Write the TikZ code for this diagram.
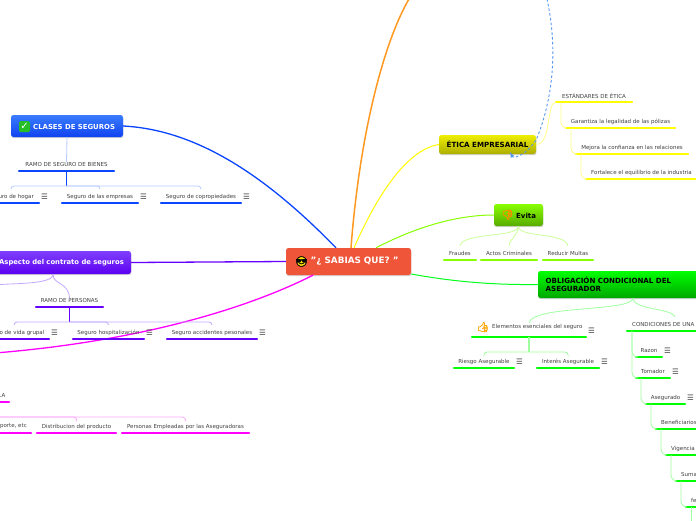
\documentclass[tikz,border=0pt]{standalone}
\usepackage{fontspec}
\setmainfont{DejaVu Sans}
\newfontfamily\emojifont[FakeBold=2.5]{Noto Emoji}
\usetikzlibrary{shadows,calc}
\definecolor{cBlue}{HTML}{0A45FF}
\definecolor{cBlueL}{HTML}{B4CBFF}
\definecolor{cPurple}{HTML}{6600FF}
\definecolor{cPurpleL}{HTML}{C4A8FF}
\definecolor{cMag}{HTML}{FF00FF}
\definecolor{cMagL}{HTML}{FFA8FF}
\definecolor{cYel}{HTML}{FFFF00}
\definecolor{cYelL}{HTML}{FFFF88}
\definecolor{cLime}{HTML}{88FF00}
\definecolor{cLimeL}{HTML}{CCFF99}
\definecolor{cGreen}{HTML}{00FF00}
\definecolor{cGreenL}{HTML}{A0FFA0}
\definecolor{cOrange}{HTML}{FF9922}
\definecolor{cDash}{HTML}{5599EE}
\definecolor{cRed}{HTML}{EE5539}
\definecolor{blueTop}{HTML}{3A7CFF}
\definecolor{blueBot}{HTML}{0F42F0}
\definecolor{purpTop}{HTML}{8040FF}
\definecolor{purpBot}{HTML}{5C00F0}
\definecolor{yelTop}{HTML}{EEEE00}
\definecolor{yelBot}{HTML}{AEAE00}
\definecolor{limeBot}{HTML}{58AA00}
\definecolor{greenBot}{HTML}{00A800}
\tikzset{
  topbox/.style={rounded corners=2.5pt,inner sep=0pt,
    drop shadow={shadow xshift=0.4pt,shadow yshift=-1.2pt,opacity=.35}},
  boxtext/.style={inner sep=0pt,anchor=west,font=\bfseries\fontsize{#1}{8.4}\selectfont},
  leaftext/.style={inner sep=0pt,text=black!75,font=\fontsize{5.5}{6.5}\selectfont},
  under/.style={line width=2.1pt,line cap=round},
  burger/.style={inner sep=0pt,text=black!75,font=\fontsize{7.5}{8}\selectfont},
  mainlink/.style={line width=1.3pt},
  lite/.style={line width=0.8pt},
  stem/.style={line width=1pt}
}
% name, x1, x2, y, colour, anchor, text x, text
\newcommand{\leafat}[8]{%
  \coordinate (#1-l) at (#2,#4);
  \coordinate (#1-r) at (#3,#4);
  \coordinate (#1-c) at ({(#2+#3)/2},#4);
  \coordinate (#1-t) at ({(#2+#3)/2},#4-14);
  \coordinate (#1-d) at ({(#2+#3)/2},#4+15);
  \node[leaftext,anchor=#6] (#1) at (#7,#4-6.5) {#8};
  \draw[under,#5] (#1-l) -- (#1-r);
}
\newcommand{\leafc}[6]{\leafat{#1}{#2}{#3}{#4}{#5}{center}{{(#2+#3)/2}}{#6}}
\newcommand{\leafw}[6]{\leafat{#1}{#2}{#3}{#4}{#5}{west}{#2+5}{#6}}
\newcommand{\menuicon}[1]{\node[burger,anchor=center] (#1-m) at ($(#1-r)+(5.5,-6.5)$) {☰};}
\newcommand{\kid}[3]{\draw[lite,#1,rounded corners=3pt] (#2-d) -| (#3-t);}
\newcommand{\tree}[3]{\draw[lite,#1,rounded corners=6pt] ([xshift=5pt]#2-l) |- (#3-l);}
\begin{document}
\begin{tikzpicture}[x=1pt,y=-1pt]
\useasboundingbox (0,0) rectangle (696,520);
\clip (0,0) rectangle (696,520);
\fill[white] (0,0) rectangle (696,520);

% free ends
\coordinate (orangeEnd) at (409,-1);
\coordinate (dashTop) at (547,-1);
\coordinate (magEnd) at (-5,353);

% main boxes
\node[topbox,fill=cRed,minimum width=125pt,minimum height=27pt] (central) at (348.5,261.5) {};
\node[boxtext=8.8,text=white] (centralText) at (310.5,261.5) {"¿ SABIAS QUE? "};
\node[circle,fill=yellow!85!orange,minimum size=10pt,inner sep=0pt] (sun) at (301.5,261.5) {};
\node[inner sep=0pt,font=\emojifont\fontsize{10}{10}\selectfont] (sunface) at (301.5,261.5) {😎};

\node[topbox,top color=blueTop,bottom color=blueBot,minimum width=112pt,minimum height=22pt] (clases) at (67,126) {};
\node[boxtext=6.9,text=white] (clasesText) at (33,126.5) {CLASES DE SEGUROS};
\node[rounded corners=1.5pt,fill=green!70!black!85,text=white,minimum size=11pt,inner sep=0pt,font=\bfseries\fontsize{10}{10}\selectfont] (chk) at (24.5,126.5) {✓};

\node[topbox,top color=purpTop,bottom color=purpBot,minimum width=141pt,minimum height=23pt] (aspecto) at (60.5,262.5) {};
\node[boxtext=6.8,text=white] (aspectoText) at (-1,262.5) {Aspecto del contrato de seguros};

\node[topbox,top color=yelTop,bottom color=yelBot,minimum width=97pt,minimum height=19pt] (etica) at (487.5,144.5) {};
\node[boxtext=7.1,text=black] (eticaText) at (446.5,144.5) {ÉTICA EMPRESARIAL};

\node[topbox,top color=cLime,bottom color=limeBot,minimum width=49pt,minimum height=22pt] (evita) at (518.5,215) {};
\node[boxtext=7,text=black] (evitaText) at (516,215.5) {Evita};
\node[inner sep=0pt,text=orange!90!yellow,font=\emojifont\fontsize{10}{10}\selectfont] (thumbDown) at (507.5,215) {👎};

\node[topbox,top color=cGreen,bottom color=greenBot,minimum width=170pt,minimum height=27pt] (oblig) at (623,284.5) {};
\node[boxtext=7.1,text=black,align=left] (obligText) at (545.5,284.5) {OBLIGACIÓN CONDICIONAL DEL\\ASEGURADOR};

% main links
\draw[mainlink,cBlue] (clases.east) .. controls (200,130) and (270,180) .. ([xshift=-12.5pt]central.north);
\draw[mainlink,cPurple] (aspecto.east) -- (central.west);
\draw[mainlink,cMag] ([xshift=-35.5pt]central.south) .. controls (240,312) and (130,342) .. (magEnd);
\draw[line width=1.5pt,cOrange] ([xshift=2.5pt]central.north) .. controls (360,130) and (385,40) .. (orangeEnd);
\draw[line width=1pt,cYel] ([xshift=5.5pt]central.north) .. controls (375,200) and (405,150) .. (etica.west);
\draw[line width=1pt,cLime] ([xshift=27.5pt]central.north) .. controls (420,225) and (460,215) .. (evita.west);
\draw[line width=1pt,green!90!cyan] ([yshift=-12.5pt]central.east) .. controls (455,282) and (495,285) .. (oblig.west);
\draw[line width=0.9pt,cDash,dash pattern=on 2.6pt off 2.2pt,->,>=latex] (dashTop) .. controls (556,40) and (556,90) .. (537,138) .. controls (530,152) and (514,160) .. (510,152);

% CLASES
\leafc{bienes}{19}{114}{171}{cBlue}{RAMO DE SEGURO DE BIENES}
\draw[lite,cBlueL] (clases.south) -- (bienes.north);
\draw[stem,cBlue] (bienes-c) -- (bienes-d);
\leafc{hogar}{-17}{39}{203}{cBlue}{Seguro de hogar}\menuicon{hogar}
\leafc{empresas}{62}{138}{203}{cBlue}{Seguro de las empresas}\menuicon{empresas}
\leafc{copro}{161}{241}{203}{cBlue}{Seguro de copropiedades}\menuicon{copro}
\kid{cBlueL}{bienes}{hogar}\kid{cBlueL}{bienes}{empresas}\kid{cBlueL}{bienes}{copro}

% ASPECTO
\coordinate (aspectoLeft) at (-5,285);
\leafc{personas}{36}{103}{307}{cPurple}{RAMO DE PERSONAS}
\draw[lite,cPurpleL] ([xshift=-7.5pt]aspecto.south) .. controls (53,285) and (10,283) .. (aspectoLeft);
\draw[lite,cPurpleL] ([xshift=-7.5pt]aspecto.south) .. controls (53,285) and (69,282) .. (personas.north);
\draw[stem,cPurple] (personas-c) -- (personas-d);
\leafc{vida}{-21}{49}{339}{cPurple}{Seguro de vida grupal}\menuicon{vida}
\leafc{hosp}{73}{144}{339}{cPurple}{Seguro hospitalización}\menuicon{hosp}
\leafc{acc}{167}{257}{339}{cPurple}{Seguro accidentes pesonales}\menuicon{acc}
\kid{cPurpleL}{personas}{vida}\kid{cPurpleL}{personas}{hosp}\kid{cPurpleL}{personas}{acc}

% MAGENTA
\leafat{la}{-12}{9}{402}{cMag}{east}{5.5}{LA}
\coordinate (la-d) at (-1,417);
\leafat{trans}{-50}{31}{433}{cMag}{east}{27}{Transporte, etc}
\leafc{dist}{37}{116}{433}{cMag}{Distribucion del producto}
\leafc{empl}{122}{249}{433}{cMag}{Personas Empleadas por las Aseguradoras}
\kid{cMagL}{la}{dist}\kid{cMagL}{la}{empl}

% ETICA
\leafc{estand}{556}{632}{102}{cYel}{ESTÁNDARES DE ÉTICA}
\leafc{garant}{566}{675}{128}{cYel}{Garantiza la legalidad de las pólizas}
\leafc{mejora}{576}{688}{154}{cYel}{Mejora la confianza en las relaciones}
\leafw{fortal}{586}{700}{179}{cYel}{Fortalece el equilibrio de la industria}
\draw[lite,cYelL] (etica.east) .. controls (552,144) and (546,102) .. (estand-l);
\tree{cYelL}{estand}{garant}\tree{cYelL}{garant}{mejora}\tree{cYelL}{mejora}{fortal}

% EVITA
\leafc{fraudes}{444}{476}{260}{cLime}{Fraudes}
\leafc{actos}{481}{537}{260}{cLime}{Actos Criminales}
\leafc{multas}{543}{593}{260}{cLime}{Reducir Multas}
\draw[lite,cLimeL] (evita.south) .. controls (518,238) and (462,232) .. (fraudes-t);
\draw[lite,cLimeL] (evita.south) .. controls (518,236) and (510,238) .. (actos-t);
\draw[lite,cLimeL] (evita.south) .. controls (518,238) and (566,232) .. (multas-t);

% OBLIGACION
\leafc{elem}{472}{586}{337}{cGreen}{}
\node[leaftext,anchor=west] (elemText) at (492,327) {Elementos esenciales del seguro};
\node[inner sep=0pt,text=orange!70!yellow,font=\emojifont\fontsize{10}{10}\selectfont] (thumbUp) at (483,327) {👍};
\menuicon{elem}
\leafw{cond}{627}{700}{331}{cGreen}{CONDICIONES DE UNA}
\coordinate (obligFoot) at (633,298);
\draw[lite,cGreenL] (obligFoot) .. controls (633,312) and (532,305) .. (elem-t);
\draw[lite,cGreenL] (obligFoot) .. controls (633,310) and (672,308) .. (675,317);
\draw[line width=1.1pt,cGreenL] (elem-c) -- (elem-d);
\leafc{riesgo}{454}{514}{368}{cGreen}{Riesgo Asegurable}\menuicon{riesgo}
\leafc{interes}{537}{599}{368}{cGreen}{Interés Asegurable}\menuicon{interes}
\kid{cGreenL}{elem}{riesgo}\kid{cGreenL}{elem}{interes}

\leafc{razon}{636}{662}{357}{cGreen}{Razon}\menuicon{razon}
\leafc{tomador}{636}{670}{378}{cGreen}{Tomador}\menuicon{tomador}
\leafc{asegurado}{646}{685}{404}{cGreen}{Asegurado}\menuicon{asegurado}
\leafw{benef}{656}{700}{429}{cGreen}{Beneficiarios}
\leafw{vig}{666}{700}{455}{cGreen}{Vigencia}
\leafw{suma}{676}{700}{481}{cGreen}{Suma}
\leafw{fe}{686}{700}{507}{cGreen}{fe}
\coordinate (feEnd) at (691,521);
\tree{cGreenL}{cond}{razon}\tree{cGreenL}{cond}{tomador}
\tree{cGreenL}{tomador}{asegurado}\tree{cGreenL}{asegurado}{benef}
\tree{cGreenL}{benef}{vig}\tree{cGreenL}{vig}{suma}\tree{cGreenL}{suma}{fe}
\draw[lite,cGreenL] ([xshift=5pt]fe-l) -- (feEnd);
\end{tikzpicture}
\end{document}
